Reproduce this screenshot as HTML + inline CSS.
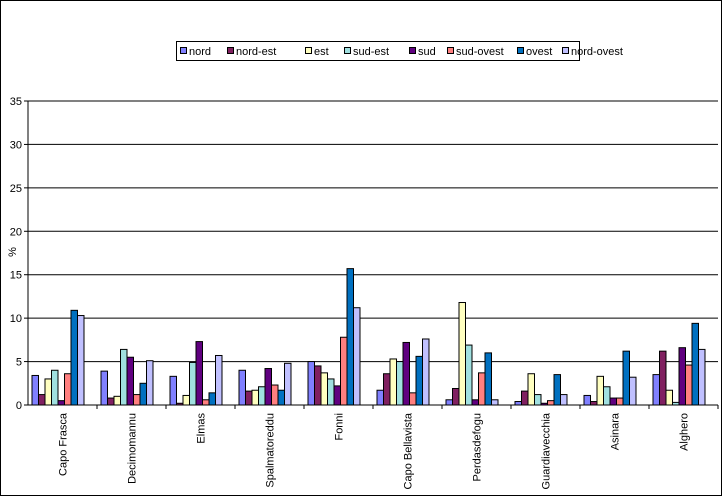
<!DOCTYPE html>
<html><head><meta charset="utf-8"><style>
body{margin:0;background:#fff}
svg{display:block;font-family:"Liberation Sans",Arial,sans-serif}
</style></head><body>
<svg id="c" width="722" height="496">
<rect x="0.5" y="0.5" width="721" height="495" fill="#fff" stroke="#000"/>
<g id="grid"></g><g id="bars"></g><g id="axes"></g>
<g>
<rect x="176.5" y="41.5" width="403" height="19" fill="#fff" stroke="#000"/>
<g id="leg"></g></g>
<text x="16" y="252" font-size="11" transform="rotate(-90 16 252)" text-anchor="middle">%</text>
</svg>
<script>
const categories=["Capo Frasca","Decimomannu","Elmas","Spalmatoreddu","Fonni","Capo Bellavista","Perdasdefogu","Guardiavecchia","Asinara","Alghero"];
const seriesNames=["nord","nord-est","est","sud-est","sud","sud-ovest","ovest","nord-ovest"];
const nord=[3.4,3.9,3.3,4.0,5.0,1.7,0.6,0.4,1.1,3.5];
const nordEst=[1.2,0.8,0.2,1.6,4.5,3.6,1.9,1.6,0.4,6.2];
const est=[3.0,1.0,1.1,1.7,3.7,5.3,11.8,3.6,3.3,1.7];
const sudEst=[4.0,6.4,4.9,2.1,3.0,5.0,6.9,1.2,2.1,0.3];
const sud=[0.5,5.5,7.3,4.2,2.2,7.2,0.6,0.2,0.8,6.6];
const sudOvest=[3.6,1.2,0.6,2.3,7.8,1.4,3.7,0.5,0.8,4.6];
const ovest=[10.9,2.5,1.4,1.7,15.7,5.6,6.0,3.5,6.2,9.4];
const nordOvest=[10.3,5.1,5.7,4.8,11.2,7.6,0.6,1.2,3.2,6.4];
const yTicks=[0,5,10,15,20,25,30,35];
const series=[nord,nordEst,est,sudEst,sud,sudOvest,ovest,nordOvest];
const colors=["#8080ff","#802060","#ffffc0","#a0e0e0","#600080","#ff8080","#0070c0","#c0c0ff"];
const NS="http://www.w3.org/2000/svg";
const X0=28,X1=718,Y0=405,Y1=101,YMAX=35;
const gw=(X1-X0)/categories.length,bw=6.5;
const y=v=>Y0-(v/YMAX)*(Y0-Y1);
const x=(i,s)=>X0+i*gw+4+s*bw;
function mk(t,a,p){const e=document.createElementNS(NS,t);for(const k in a)e.setAttribute(k,a[k]);p.appendChild(e);return e;}
const grid=document.getElementById('grid'),bars=document.getElementById('bars'),axes=document.getElementById('axes');
yTicks.forEach(t=>{
 if(t>0){const l=mk('line',{x1:X0,x2:X1,y1:y(t),y2:y(t),stroke:'#000'},grid);
 
 }
 const tk=mk('line',{x1:X0-4,x2:X0,y1:y(t),y2:y(t),stroke:'#000'},axes);
 
 
 const tx=mk('text',{x:X0-6,y:y(t)+4,'font-size':11,'text-anchor':'end'},axes);tx.textContent=t;
 
 
});
series.forEach((arr,s)=>arr.forEach((v,i)=>{
 const r=mk('rect',{x:x(i,s),y:y(v),width:bw,height:Y0-y(v),fill:colors[s],stroke:'#000','stroke-width':1},bars);
 
 
}));
const ya=mk('line',{x1:X0,x2:X0,y1:Y1,y2:Y0,stroke:'#000'},axes);


const xa=mk('line',{x1:X0,x2:X1,y1:Y0,y2:Y0,stroke:'#000'},axes);


categories.forEach((c,i)=>{
 const tk=mk('line',{x1:X0+(i+1)*gw,x2:X0+(i+1)*gw,y1:Y0,y2:Y0+4,stroke:'#000'},axes);
 
 
 const cx=X0+(i+0.5)*gw+4,ty=Y0+8;
 const t=mk('text',{x:cx,y:ty,'font-size':11,'text-anchor':'end',transform:`rotate(-90 ${cx} ${ty})`},axes);t.textContent=c;
 
 
});
const leg=document.getElementById('leg');
const lx=[180,227,305,344,409,447,517,562];
seriesNames.forEach((n,s)=>{
 const r=mk('rect',{x:lx[s]+0.5,y:47.5,width:6,height:6,fill:colors[s],stroke:'#000'},leg);
 
 
 const t=mk('text',{x:lx[s]+9,y:55,'font-size':11},leg);t.textContent=n;
 
 
});
</script>
</body></html>
